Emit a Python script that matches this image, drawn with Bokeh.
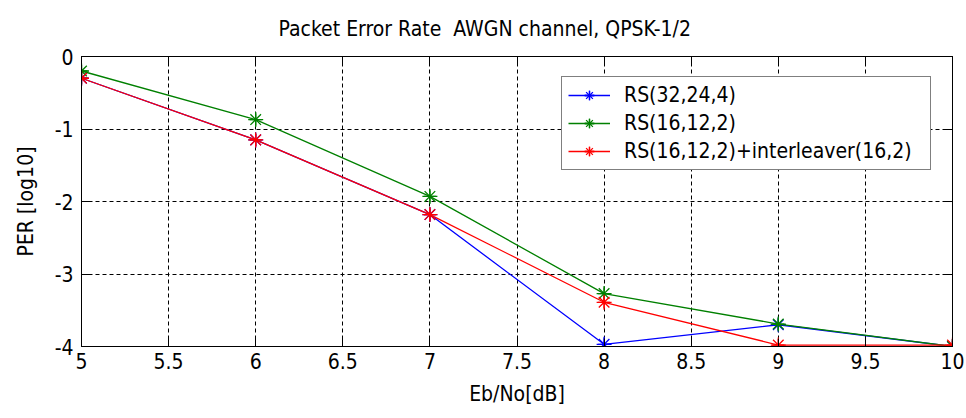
from bokeh.plotting import figure
from bokeh.models import Range1d, FixedTicker, LinearAxis, Legend, LegendItem
from bokeh.embed import file_html
from bokeh.resources import INLINE

ebno = [5, 6, 7, 8, 9, 10]
rs_32_24_4 = [-0.3, -1.15, -2.18, -3.97, -3.7, -4.0]
rs_16_12_2 = [-0.2, -0.87, -1.93, -3.27, -3.69, -4.0]
rs_16_12_2_il = [-0.3, -1.15, -2.18, -3.39, -3.98, -3.98]
series_names = ["RS(32,24,4)", "RS(16,12,2)", "RS(16,12,2)+interleaver(16,2)"]
series_colors = ["#0000ff", "#008000", "#ff0000"]
x_ticks = [5, 5.5, 6, 6.5, 7, 7.5, 8, 8.5, 9, 9.5, 10]
x_tick_labels = ["5", "5.5", "6", "6.5", "7", "7.5", "8", "8.5", "9", "9.5", "10"]
y_ticks = [-4, -3, -2, -1, 0]
y_tick_labels = ["-4", "-3", "-2", "-1", "0"]
title_text = "Packet Error Rate\u00a0 AWGN channel, QPSK-1/2"

FONT = "'DejaVu Sans Condensed', 'Liberation Sans', sans-serif"
FS = "21px"

p = figure(width=966, height=418, output_backend="svg", toolbar_location=None,
           x_range=Range1d(5, 10), y_range=Range1d(-4, 0),
           min_border_left=81, min_border_right=14, min_border_top=55, min_border_bottom=72,
           x_axis_label="Eb/No[dB]", y_axis_label="PER [log10]")
p.title.text = title_text
p.title.align = "left"
p.title.offset = 197
p.title.vertical_align = "middle"
p.title.text_font = FONT
p.title.text_font_size = FS
p.title.text_font_style = "normal"
p.title.text_color = "#000000"
p.title.standoff = 30

p.outline_line_color = "black"
p.outline_line_width = 1
p.background_fill_color = "white"
p.border_fill_color = "white"

for ax, ticks, labels in ((p.xaxis[0], x_ticks, x_tick_labels), (p.yaxis[0], y_ticks, y_tick_labels)):
    ax.ticker = FixedTicker(ticks=ticks)
    ax.major_label_overrides = {t: l for t, l in zip(ticks, labels)}
    ax.major_tick_in = 8
    ax.major_tick_out = 0
    ax.minor_tick_in = 0
    ax.minor_tick_out = 0
    ax.axis_line_color = "black"
    ax.major_tick_line_color = "black"
    ax.major_label_text_font = FONT
    ax.major_label_text_font_size = FS
    ax.major_label_text_color = "black"
    ax.axis_label_text_font = FONT
    ax.axis_label_text_font_size = FS
    ax.axis_label_text_font_style = "normal"
    ax.axis_label_text_color = "black"
p.xaxis.major_label_standoff = 6
p.yaxis.major_label_standoff = 8
p.xaxis.axis_label_standoff = 10
p.yaxis.axis_label_standoff = 14

for loc, ticks in (("above", x_ticks), ("right", y_ticks)):
    ax = LinearAxis(ticker=FixedTicker(ticks=ticks),
                    major_label_overrides={t: "" for t in ticks},
                    major_tick_in=8, major_tick_out=0, minor_tick_in=0, minor_tick_out=0,
                    major_label_standoff=0,
                    axis_line_color="black", major_tick_line_color="black")
    p.add_layout(ax, loc)

p.xgrid.ticker = FixedTicker(ticks=x_ticks)
p.ygrid.ticker = FixedTicker(ticks=y_ticks)
for g in (p.xgrid[0], p.ygrid[0]):
    g.grid_line_color = "black"
    g.grid_line_dash = "4 3"
    g.grid_line_width = 1
    g.grid_line_alpha = 1

items = []
for ys, name, col in zip([rs_32_24_4, rs_16_12_2, rs_16_12_2_il], series_names, series_colors):
    r1 = p.line(ebno, ys, line_color=col, line_width=1.3)
    r2 = p.scatter(ebno, ys, marker="asterisk", size=15, line_color=col, line_width=1.3)
    r3 = p.scatter(ebno, ys, marker="cross", size=12, line_color=col, line_width=1.3)
    items.append(LegendItem(label=name, renderers=[r1, r2, r3]))

legend = Legend(items=items, location=(480, 176), orientation="vertical",
                label_text_font=FONT, label_text_font_size=FS, label_text_color="black",
                glyph_width=42, glyph_height=24, label_height=24, label_width=300,
                spacing=4, padding=6,
                label_standoff=14, border_line_color="black", border_line_width=1,
                background_fill_color="white", background_fill_alpha=1, margin=0)
p.add_layout(legend, "center")

open("out.html", "w").write(file_html(p, INLINE))
